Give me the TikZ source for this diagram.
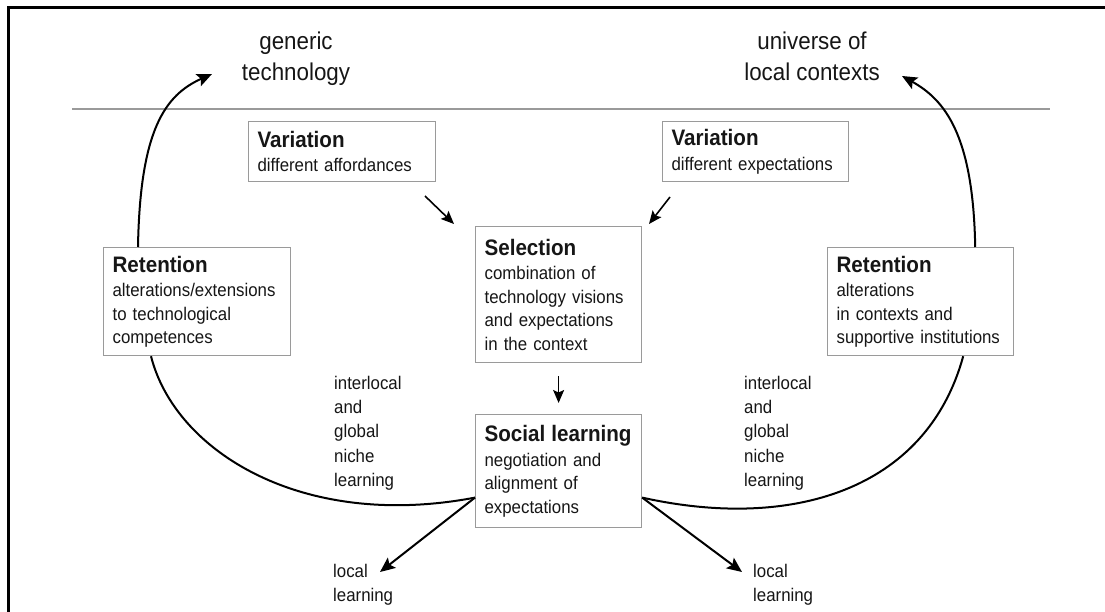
\documentclass[tikz,border=0pt]{standalone}
\usepackage{fontspec}
\setmainfont{Liberation Sans}[FakeStretch=0.92]
\usetikzlibrary{arrows.meta}
\definecolor{ink}{HTML}{161616}
\definecolor{rulegray}{HTML}{9A9A9A}
\newcommand{\boxhead}[1]{{\fontsize{22.4}{25}\selectfont\bfseries #1}}

\begin{document}
\begin{tikzpicture}[x=1pt,y=-1pt,
  every node/.style={text=ink, inner sep=0pt},
  stage/.style={draw=rulegray, line width=1.2pt, align=left, anchor=north west,
    inner xsep=9pt, inner ysep=0pt, font=\fontsize{18.3}{23.5}\selectfont},
  caption/.style={align=left, anchor=north west, font=\fontsize{18.3}{24.25}\selectfont},
  pole/.style={align=center, anchor=north, font=\fontsize{24.3}{31}\selectfont},
  flow/.style={draw=black, line width=2pt},
  flowtip/.style={flow, -{Stealth[length=15pt,width=13pt,inset=3pt]}},
  nudge/.style={draw=black, line width=1.6pt, -{Stealth[length=13pt,width=11pt,inset=2.5pt]}},
]
\useasboundingbox (0,0) rectangle (1105,612);
\fill[white] (0,0) rectangle (1105,612);

% outer frame and the separating rule
\draw[line width=3pt] (8,640) -- (8,8) -- (1130,8);
\draw[rulegray, line width=1.2pt] (72,109) -- (1050,109);

% the two poles above the rule
\node[pole] (gen) at (296,31.5) {generic\\technology};
\node[pole] (uni) at (812,31.5) {universe of\\local contexts};

% stage boxes
\node[stage, text width=169pt, minimum height=60pt] (varL) at (248,121)
  {\boxhead{Variation}\\[1pt]different affordances};
\node[stage, text width=168pt, minimum height=60pt] (varR) at (662,121)
  {\boxhead{Variation}\\[1pt]different expectations};
\node[stage, text width=148pt, minimum height=136pt] (sel) at (475,226)
  {\boxhead{Selection}\\[1pt]combination of\\technology visions\\and expectations\\in the context};
\node[stage, text width=169pt, minimum height=108pt] (retL) at (103,247)
  {\boxhead{Retention}\\[1pt]alterations/extensions\\to technological\\competences};
\node[stage, text width=168pt, minimum height=108pt] (retR) at (827,247)
  {\boxhead{Retention}\\[1pt]alterations\\in contexts and\\supportive institutions};
\node[stage, text width=148pt, minimum height=113pt] (soc) at (475,414)
  {\boxhead{Social learning}\\[1pt]negotiation and\\alignment of\\expectations};

% free labels
\node[caption] (nicheL) at (334,375.9) {interlocal\\and\\global\\niche\\learning};
\node[caption] (nicheR) at (744,375.9) {interlocal\\and\\global\\niche\\learning};
\node[caption] (localL) at (333,563.9) {local\\learning};
\node[caption] (localR) at (753,563.9) {local\\learning};

% arrow ends and junctions
\coordinate (jl) at ([yshift=-26.5pt]soc.west);
\coordinate (jr) at ([yshift=-26.5pt]soc.east);
\coordinate (tipL) at (380,572);
\coordinate (tipR) at (742,572);
\coordinate (tipGen) at (212,74);
\coordinate (tipUni) at (902,76);
\coordinate (aL0) at (425,196);
\coordinate (aL1) at (454,224);
\coordinate (aR0) at (670,197);
\coordinate (aR1) at (649,224);

% variation feeds selection, selection feeds social learning
\draw[nudge] (aL0) -- (aL1);
\draw[nudge] (aR0) -- (aR1);
\draw[nudge, shorten <=13pt, shorten >=11pt] (sel.south) -- (soc.north);

% niche learning loops back to retention
\draw[flow] ([xshift=48pt]retL.south west) .. controls +(24,95) and +(-173,33) .. (jl);
\draw[flow] (jr) .. controls +(148,33) and +(-37,135) .. ([xshift=-51pt]retR.south east);

% local learning
\draw[flowtip] (jl) -- (tipL);
\draw[flowtip] (jr) -- (tipR);

% retention feeds the poles
\draw[flowtip] ([xshift=35pt]retL.north west) .. controls +(2,-117) and +(-47,21) .. (tipGen);
\draw[flowtip] ([xshift=-39pt]retR.north east) .. controls +(-2,-112) and +(43,24) .. (tipUni);
\end{tikzpicture}
\end{document}
